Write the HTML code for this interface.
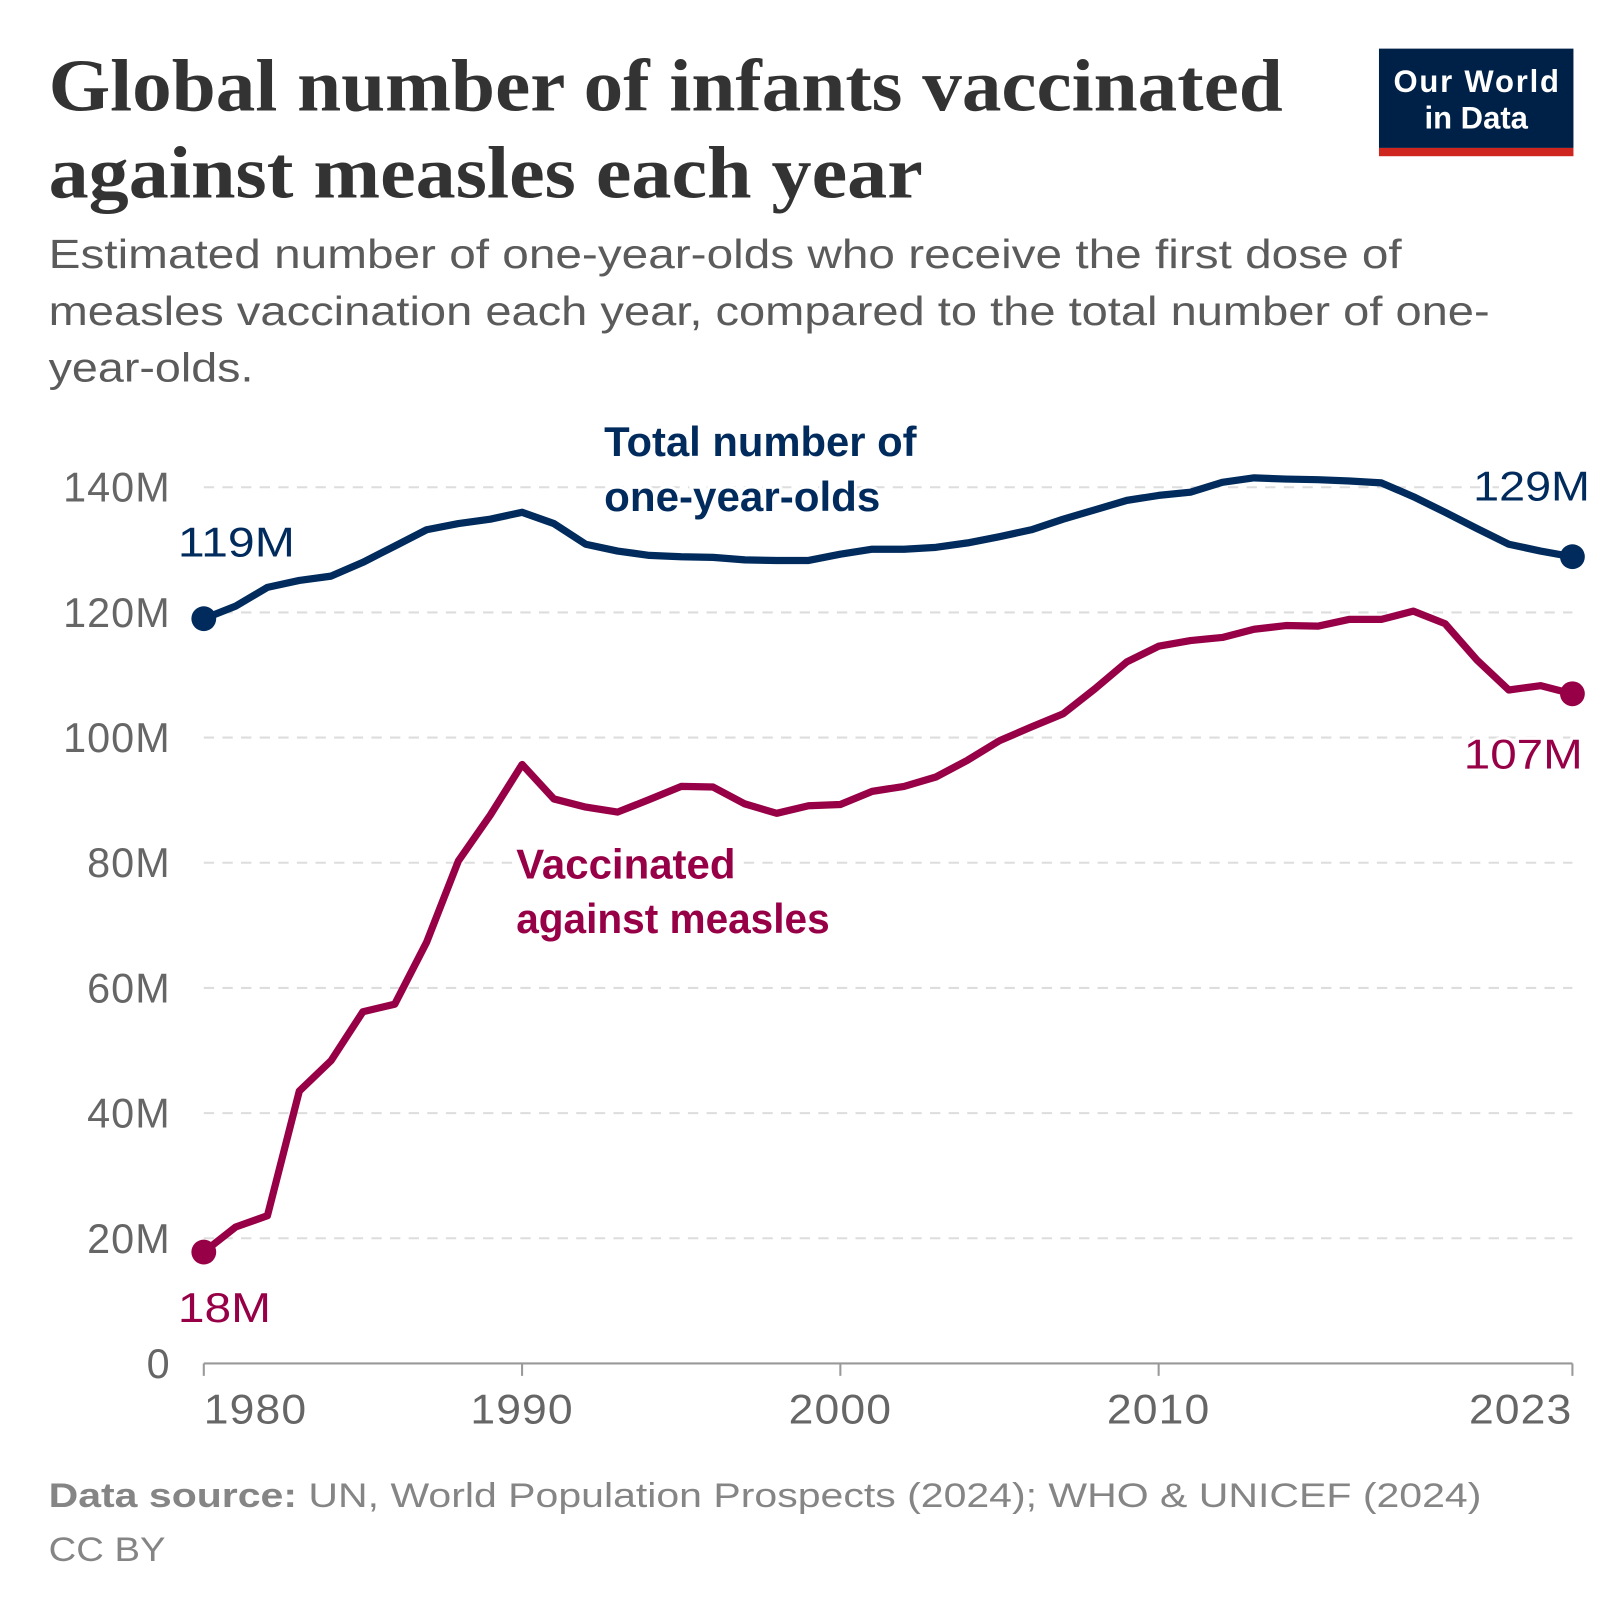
<!DOCTYPE html>
<html><head><meta charset="utf-8">
<style>
html,body{margin:0;padding:0;background:#fff;}
svg{display:block;}
text{font-family:"Liberation Sans",sans-serif;}
.title{font-family:"Liberation Serif",serif;font-weight:bold;font-size:72px;fill:#333;}
.sub{font-size:39px;fill:#5b5b5b;}
.tick{font-size:40px;fill:#666;letter-spacing:1px;}
.src{font-size:33px;fill:#858585;}
</style></head>
<body>
<svg id="chart" width="1620" height="1620" viewBox="0 0 1566 1566" xmlns="http://www.w3.org/2000/svg">
<text class="title" x="47" y="107" textLength="1193" lengthAdjust="spacingAndGlyphs">Global number of infants vaccinated</text>
<text class="title" x="47" y="191" textLength="845" lengthAdjust="spacingAndGlyphs">against measles each year</text>
<g>
<rect x="1333" y="47" width="188" height="96" fill="#002147"/>
<rect x="1333" y="143" width="188" height="8" fill="#ce261e"/>
<text x="1427" y="89" text-anchor="middle" font-size="30" fill="#fff" font-weight="bold" textLength="160">Our World</text>
<text x="1427" y="124" text-anchor="middle" font-size="30" fill="#fff" font-weight="bold">in Data</text>
</g>
<text class="sub" x="47" y="259" textLength="1308" lengthAdjust="spacingAndGlyphs">Estimated number of one-year-olds who receive the first dose of</text>
<text class="sub" x="47" y="314" textLength="1393" lengthAdjust="spacingAndGlyphs">measles vaccination each year, compared to the total number of one-</text>
<text class="sub" x="47" y="369" textLength="198" lengthAdjust="spacingAndGlyphs">year-olds.</text>
<g id="grid"></g>
<g id="axes"></g>
<g id="lines"></g>
<g id="labels"></g>
<text class="src" x="47" y="1457" textLength="1385" lengthAdjust="spacingAndGlyphs"><tspan font-weight="bold">Data source:</tspan> UN, World Population Prospects (2024); WHO &amp; UNICEF (2024)</text>
<text class="src" x="47" y="1509" textLength="113" lengthAdjust="spacingAndGlyphs">CC BY</text>
</svg>
<script>
const years = [];
for (let y = 1980; y <= 2023; y++) years.push(y);
const totalPop = [119,121,124,125.1,125.8,128,130.6,133.2,134.2,134.9,136,134.2,130.9,129.8,129.1,128.9,128.8,128.4,128.3,128.3,129.3,130.1,130.1,130.4,131.1,132.1,133.2,134.9,136.4,137.9,138.7,139.2,140.8,141.5,141.3,141.2,141,140.7,138.5,136,133.4,130.9,129.8,128.9];
const vaccinated = [17.8,21.8,23.6,43.5,48.4,56.2,57.4,67.3,80.3,87.6,95.7,90.2,88.9,88.1,90.1,92.2,92.1,89.4,87.9,89.1,89.3,91.4,92.2,93.7,96.4,99.5,101.7,103.8,107.8,112.1,114.6,115.5,116,117.3,117.9,117.8,118.9,118.9,120.2,118.2,112.4,107.6,108.3,107];
const yTicks = [0,20,40,60,80,100,120,140];
const yTickLabels = ["0","20M","40M","60M","80M","100M","120M","140M"];
const xTicks = [1980,1990,2000,2010,2023];

const NS = "http://www.w3.org/2000/svg";
const X0 = 197, X1 = 1520, Y0 = 1318, Y140 = 471;
const xs = y => X0 + (y - 1980) / (2023 - 1980) * (X1 - X0);
const ys = v => Y0 - v / 140 * (Y0 - Y140);
function mk(tag, attrs, parent) {
  const e = document.createElementNS(NS, tag);
  for (const k in attrs) e.setAttribute(k, attrs[k]);
  document.getElementById(parent).appendChild(e);
  return e;
}
yTicks.forEach((t, i) => {
  if (t > 0) {
    const g = mk("line", {x1: X0, x2: X1, y1: ys(t), y2: ys(t), stroke: "#ddd", "stroke-width": 2, "stroke-dasharray": "10,8"}, "grid");
    
    
  }
  const l = mk("text", {x: 165, y: ys(t) + 14, "text-anchor": "end", class: "tick"}, "axes");
  l.textContent = yTickLabels[i];
  
  
});
const ax = mk("line", {x1: X0, x2: X1, y1: Y0, y2: Y0, stroke: "#999", "stroke-width": 2}, "axes");


xTicks.forEach(t => {
  const tk = mk("line", {x1: xs(t), x2: xs(t), y1: Y0, y2: Y0 + 12, stroke: "#999", "stroke-width": 2}, "axes");
  
  
  const anchor = t === 1980 ? "start" : (t === 2023 ? "end" : "middle");
  const l = mk("text", {x: xs(t), y: 1376, "text-anchor": anchor, class: "tick", textLength: 100, lengthAdjust: "spacingAndGlyphs"}, "axes");
  l.textContent = t;
  
  
});
function series(vals, color, name) {
  const d = vals.map((v, i) => (i ? "L" : "M") + xs(years[i]).toFixed(1) + "," + ys(v).toFixed(1)).join("");
  const p = mk("path", {d: d, fill: "none", stroke: color, "stroke-width": 7, "stroke-linejoin": "round"}, "lines");
  
  
  [0, vals.length - 1].forEach(i => {
    const c = mk("circle", {cx: xs(years[i]), cy: ys(vals[i]), r: 12, fill: color}, "lines");
    
    
  });
}
const NAVY = "#002b5c", RED = "#970046";
series(totalPop, NAVY, "total-one-year-olds");
series(vaccinated, RED, "vaccinated");
function label(txt, x, y, color, anchor, bold, name, len) {
  const t = mk("text", {x: x, y: y, fill: color, "text-anchor": anchor, "font-size": 40, "font-weight": bold ? "bold" : "normal", stroke: "#fff", "stroke-width": 6, "paint-order": "stroke", textLength: len, lengthAdjust: "spacingAndGlyphs"}, "labels");
  t.textContent = txt;
  
  
}
label(Math.round(totalPop[0]) + "M", 172, ys(totalPop[0]) - 60, NAVY, "start", false, "total-start-value", 113);
label(Math.round(totalPop[totalPop.length - 1]) + "M", 1537, 484, NAVY, "end", false, "total-end-value", 113);
label(Math.round(vaccinated[0]) + "M", 172, 1278, RED, "start", false, "vaccinated-start-value", 90);
label(Math.round(vaccinated[vaccinated.length - 1]) + "M", 1530, 743, RED, "end", false, "vaccinated-end-value", 115);
label("Total number of", 584, 441, NAVY, "start", true, "total-series-label", 302);
label("one-year-olds", 584, 494, NAVY, "start", true, "total-series-label-line2", 267);
label("Vaccinated", 499, 849, RED, "start", true, "vaccinated-series-label", 212);
label("against measles", 499, 902, RED, "start", true, "vaccinated-series-label-line2", 303);
</script>
</body></html>
